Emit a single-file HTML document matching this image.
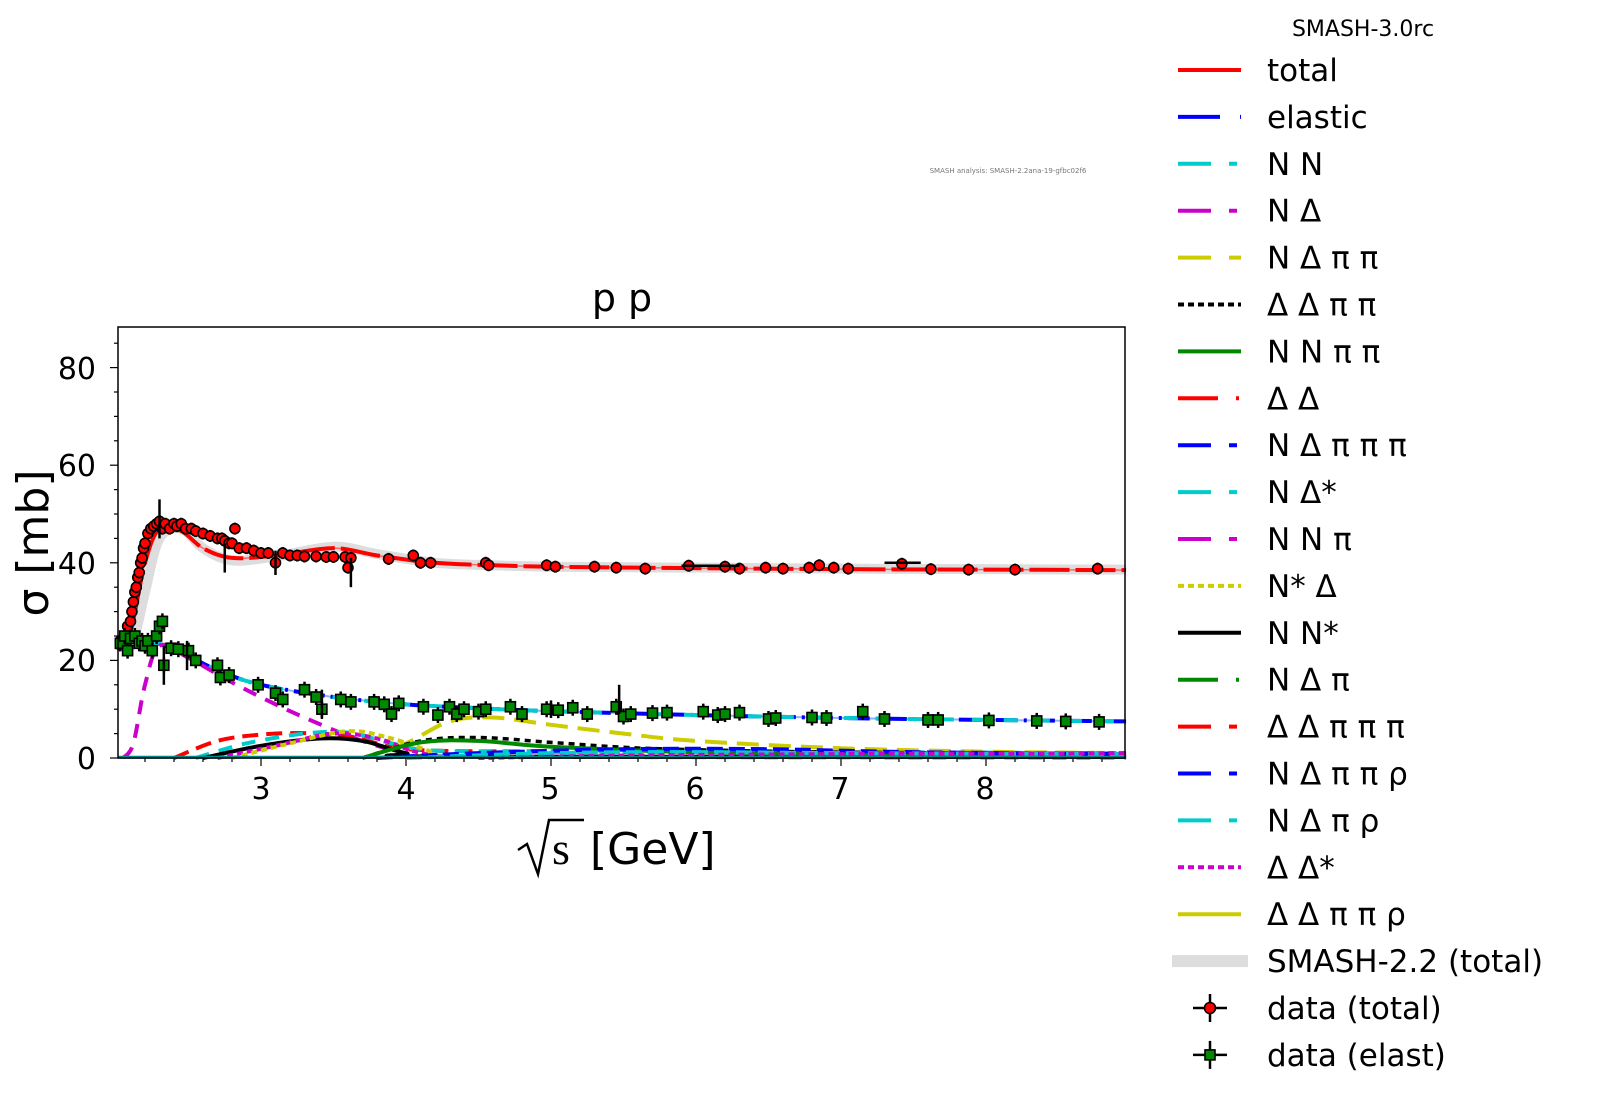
<!DOCTYPE html>
<html><head><meta charset="utf-8"><style>
html,body{margin:0;padding:0;background:#fff;width:1600px;height:1108px;overflow:hidden}
svg{display:block;font-family:"DejaVu Sans","Liberation Sans",sans-serif}
</style></head><body>
<svg id="s" width="1600" height="1108" viewBox="0 0 1600 1108" xmlns="http://www.w3.org/2000/svg">
<text x="1363" y="36" font-size="22" text-anchor="middle">SMASH-3.0rc</text>
<text x="1008" y="173" font-size="7" fill="#777" text-anchor="middle">SMASH analysis: SMASH-2.2ana-19-gfbc02f6</text>
<text x="622" y="311" font-size="38" text-anchor="middle">p p</text>
<g id="plot"></g>
<rect x="118" y="327" width="1007" height="431" fill="none" stroke="#000" stroke-width="1.5"/>
<g font-size="30" text-anchor="end">
<text x="96" y="769">0</text><text x="96" y="671">20</text><text x="96" y="574">40</text><text x="96" y="476">60</text><text x="96" y="379">80</text>
</g>
<g font-size="30" text-anchor="middle">
<text x="261" y="799">3</text><text x="406" y="799">4</text><text x="550" y="799">5</text><text x="695" y="799">6</text><text x="840" y="799">7</text><text x="985" y="799">8</text>
</g>
<text transform="translate(48,543) rotate(-90)" font-size="44" text-anchor="middle">σ [mb]</text>
<path d="M518 850 L527 844 L538 874 L549 820 L584 820" fill="none" stroke="#000" stroke-width="2.5"/>
<text x="552" y="864" font-size="46" font-family="Liberation Serif,serif">s</text>
<text x="590" y="864" font-size="44">[GeV]</text>
<g id="leg" font-size="31"></g>
</svg>
<script>
const NS="http://www.w3.org/2000/svg";
const plot=document.getElementById('plot'),leg=document.getElementById('leg');
const X=s=>261+(s-3)*145, Y=m=>758-m*4.88;
function el(t,a,p){const e=document.createElementNS(NS,t);for(const k in a)e.setAttribute(k,a[k]);(p||plot).appendChild(e);return e;}
function cr(pts){pts=pts.map(p=>[X(p[0]),Y(p[1])]);let d='M'+pts[0].join(' ');for(let i=0;i<pts.length-1;i++){const p0=pts[i-1]||pts[i],p1=pts[i],p2=pts[i+1],p3=pts[i+2]||p2;d+=' C'+(p1[0]+(p2[0]-p0[0])/6)+' '+(p1[1]+(p2[1]-p0[1])/6)+' '+(p2[0]-(p3[0]-p1[0])/6)+' '+(p2[1]-(p3[1]-p1[1])/6)+' '+p2[0]+' '+p2[1];}return d;}
function line(pts,c,w,da,op){el('path',{d:cr(pts),fill:'none',stroke:c,'stroke-width':w,'stroke-dasharray':da||'none',opacity:op||1});}
for(let m=0;m<=85;m+=5){const y=Y(m),L=m%20==0?8:4;el('line',{x1:118-L,x2:118,y1:y,y2:y,stroke:'#000','stroke-width':1.2});}
for(let s=2.2;s<9;s+=0.2){const x=X(s),r=Math.abs(s-Math.round(s))<0.01,L=r?8:4;el('line',{x1:x,x2:x,y1:758,y2:758+L,stroke:'#000','stroke-width':1.2});}
const tot=[[2.014,22],[2.1,26],[2.2,40],[2.3,47],[2.45,46.5],[2.6,43],[2.8,41],[3.1,41.5],[3.5,43],[3.8,41.5],[4.2,40],[4.6,39.5],[5,39.2],[6,38.9],[7,38.7],[8,38.6],[8.966,38.5]];
const band=[[2.05,22],[2.12,24],[2.2,34],[2.3,45],[2.45,47],[2.6,43],[2.8,40.5],[3.1,41.3],[3.5,43.3],[3.8,41.8],[4.2,40],[4.6,39.5],[5,39.2],[6,39],[7,38.8],[8,38.7],[8.966,38.6]];
line(band,'#ddd',10);
const ela=[[2.014,24],[2.2,24],[2.4,22.3],[2.7,18],[3,15],[3.5,12.5],[4,11],[4.5,10.2],[5,9.6],[6,8.8],[7,8.2],[8,7.8],[8.966,7.5]];
line(ela,'#8ab4ff',2);line(ela,'#00f',4,'22 6 3 6');line(ela,'#0cc',4,'14 18');
line([[2.05,0],[2.12,3],[2.2,15],[2.3,23],[2.5,20.5],[2.8,15.5],[3.1,11],[3.4,7],[3.7,3.5],[4,1],[4.3,0.3],[8.966,0.1]],'#c0c',4,'14 10');
line([[2.4,0],[2.7,3.5],[3,4.8],[3.3,5.1],[3.6,4.5],[3.9,2.3],[4.2,1.5],[5,1.3],[7,1],[8.966,0.8]],'#f00',4,'16 8');
line([[2.55,0],[2.9,3],[3.3,5],[3.6,5.2],[3.9,3],[4.2,1.5],[5,1.4],[7,1.2],[8.966,1]],'#0cc',4,'14 10');
line([[2.6,0],[3,2.5],[3.4,4],[3.7,3.5],[4,1],[4.3,0.3],[8.966,0.2]],'#000',4);
line([[2.7,0],[3.1,2.5],[3.5,5],[3.8,4],[4.1,1],[4.4,0.2]],'#c0c',4,'6 4');
line([[2.8,0],[3.2,3],[3.6,5.5],[3.9,4],[4.2,1]],'#cc0',4,'6 4');
line([[3.7,0],[4,3],[4.3,7.5],[4.6,8.3],[5,6.8],[5.5,5],[6,3.5],[7,2],[8,1.3],[8.966,1]],'#cc0',4,'22 10');
line([[3.7,0],[4.1,3.5],[4.5,4.2],[5,3.2],[5.5,2.2],[6,1.7],[7,1.2],[8.966,0.9]],'#000',3.5,'6 5');
line([[3.7,0],[4.1,3.2],[4.5,3.5],[5,2.3],[6,1.2],[7,0.8],[8.966,0.6]],'#080',4);
line([[3.8,0],[4.5,1],[5.5,1.8],[6.5,1.8],[7.5,1.2],[8.966,0.8]],'#00f',4,'16 6');
line([[4,0],[5,1],[6,1.2],[7,1],[8.966,0.8]],'#0cc',4,'16 6');
line([[4.5,0],[5.5,0.5],[7,0.8],[8,0.9],[8.966,1]],'#c0c',4,'6 4');
line([[2.014,0.15],[8.966,0.15]],'#088',3);
line(tot,'#f66',1.5);line(tot,'#f00',4,'40 6');
const dt=[[2.03,24],[2.06,25],[2.08,27],[2.1,28],[2.11,30],[2.12,32],[2.13,34],[2.14,35],[2.15,37],[2.16,38],[2.17,40],[2.18,41],[2.19,43],[2.2,44],[2.22,46],[2.24,47],[2.26,47.5],[2.28,48],[2.3,48.5],[2.32,47],[2.34,48],[2.37,47],[2.4,48],[2.42,47.5],[2.45,48],[2.48,47],[2.52,47],[2.55,46.5],[2.6,46],[2.65,45.5],[2.7,45],[2.73,45],[2.75,44.5],[2.78,44],[2.8,44],[2.82,47],[2.85,43],[2.9,43],[2.95,42.5],[3,42],[3.05,42],[3.1,40],[3.15,42],[3.2,41.5],[3.25,41.5],[3.3,41.3],[3.38,41.3],[3.45,41.2],[3.5,41.2],[3.58,41.2],[3.6,39],[3.62,41],[3.88,40.8],[4.05,41.5],[4.1,40],[4.17,40],[4.55,40],[4.57,39.5],[4.97,39.5],[5.03,39.2],[5.3,39.2],[5.45,39],[5.65,38.8],[5.95,39.4],[6.2,39.2],[6.3,38.8],[6.48,39],[6.6,38.8],[6.78,39],[6.85,39.5],[6.95,39],[7.05,38.8],[7.42,39.8],[7.62,38.7],[7.88,38.6],[8.2,38.6],[8.77,38.8]];
dt.forEach(p=>{const x=X(p[0]),y=Y(p[1]);el('line',{x1:x,x2:x,y1:y-6,y2:y+6,stroke:'#000','stroke-width':2.5});el('circle',{cx:x,cy:y,r:5,fill:'#f00',stroke:'#000','stroke-width':1.6});});
[[2.3,49,4],[2.75,41,3],[3.1,40,2.5],[3.62,38,3]].forEach(p=>{const x=X(p[0]);el('line',{x1:x,x2:x,y1:Y(p[1]+p[2]),y2:Y(p[1]-p[2]),stroke:'#000','stroke-width':2.5});});
[[5.9,6.3,39.4],[7.3,7.55,40]].forEach(p=>el('line',{x1:X(p[0]),x2:X(p[1]),y1:Y(p[2]),y2:Y(p[2]),stroke:'#000','stroke-width':2.5}));
const de=[[2.03,23.5],[2.06,25],[2.08,22],[2.1,24.5],[2.13,25],[2.16,23.5],[2.18,24],[2.2,23],[2.22,24],[2.25,22],[2.28,25],[2.3,27],[2.32,28],[2.33,19],[2.38,22.5],[2.43,22.3],[2.5,22],[2.55,20],[2.7,19],[2.72,16.5],[2.78,17],[2.98,15],[3.1,13.3],[3.15,12],[3.3,14],[3.38,12.5],[3.42,10],[3.55,12],[3.62,11.5],[3.78,11.5],[3.85,11],[3.9,9],[3.95,11.2],[4.12,10.5],[4.22,8.8],[4.3,10.5],[4.35,9],[4.4,10],[4.5,9.5],[4.55,10],[4.72,10.5],[4.8,9],[4.97,10],[5.05,9.8],[5.15,10.3],[5.25,9],[5.45,10.5],[5.5,8.5],[5.55,9],[5.7,9.2],[5.8,9.3],[6.05,9.5],[6.15,8.8],[6.2,9],[6.3,9.3],[6.5,8],[6.55,8.2],[6.8,8.3],[6.9,8.2],[7.15,9.5],[7.3,8],[7.6,7.8],[7.67,7.8],[8.02,7.7],[8.35,7.6],[8.55,7.5],[8.78,7.4]];
de.forEach(p=>{const x=X(p[0]),y=Y(p[1]);el('line',{x1:x,x2:x,y1:y-8,y2:y+8,stroke:'#000','stroke-width':2.5});el('rect',{x:x-5,y:y-5,width:10,height:10,fill:'#080',stroke:'#000','stroke-width':1.6});});
[[2.33,19,4],[2.49,21,3],[3.42,11,3],[5.47,12,3],[5.0,10,1.8]].forEach(p=>{const x=X(p[0]);el('line',{x1:x,x2:x,y1:Y(p[1]+p[2]),y2:Y(p[1]-p[2]),stroke:'#000','stroke-width':2.5});});
const L=[['total','#f00','none'],['elastic','#00f','42 20 4 20'],['N N','#0cc','33 18 8 100'],['N Δ','#c0c','33 18 8 100'],['N Δ π π','#cc0','33 18 12 100'],['Δ Δ π π','#000','6 4'],['N N π π','#080','none'],['Δ Δ','#f00','40 18 3 100'],['N Δ π π π','#00f','33 18 8 100'],['N Δ*','#0cc','33 18 8 100'],['N N π','#c0c','33 18 8 100'],['N* Δ','#cc0','6 4'],['N N*','#000','none'],['N Δ π','#080','40 18 3 100'],['Δ Δ π π π','#f00','33 18 8 100'],['N Δ π π ρ','#00f','33 18 8 100'],['N Δ π ρ','#0cc','33 18 8 100'],['Δ Δ*','#c0c','6 4'],['Δ Δ π π ρ','#cc0','none']];
L.forEach((l,i)=>{const y=70+i*46.9;el('line',{x1:1178,x2:1241,y1:y,y2:y,stroke:l[1],'stroke-width':4,'stroke-dasharray':l[2]},leg);const t=el('text',{x:1267,y:y+11},leg);t.textContent=l[0];});
let y=70+19*46.9;el('line',{x1:1172,x2:1248,y1:y,y2:y,stroke:'#ddd','stroke-width':12},leg);let t=el('text',{x:1267,y:y+11},leg);t.textContent='SMASH-2.2 (total)';
[['data (total)','c'],['data (elast)','r']].forEach((d,i)=>{const yy=70+(20+i)*46.9;el('line',{x1:1193,x2:1227,y1:yy,y2:yy,stroke:'#000','stroke-width':2.5},leg);el('line',{x1:1210,x2:1210,y1:yy-14,y2:yy+14,stroke:'#000','stroke-width':2.5},leg);if(d[1]=='c')el('circle',{cx:1210,cy:yy,r:5.5,fill:'#f00',stroke:'#000','stroke-width':1.6},leg);else el('rect',{x:1205,y:yy-5,width:10,height:10,fill:'#080',stroke:'#000','stroke-width':1.6},leg);const tt=el('text',{x:1267,y:yy+11},leg);tt.textContent=d[0];});
</script>
</body></html>
